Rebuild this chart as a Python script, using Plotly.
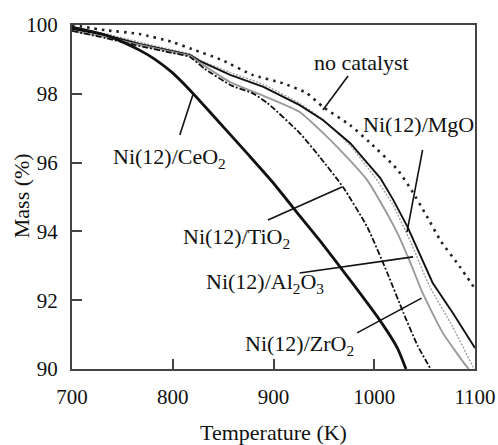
import plotly.graph_objects as go

# ---- data ----
temp_nocat = [700, 733, 767, 799, 819, 849, 879, 909, 933, 949, 976, 995, 1023, 1038, 1052, 1066, 1085, 1100]
mass_nocat = [100.0, 99.85, 99.74, 99.51, 99.30, 98.98, 98.55, 98.31, 98.02, 97.62, 97.09, 96.6, 95.8, 95.15, 94.45, 93.72, 92.97, 92.33]

temp_mgo = [700, 733, 767, 799, 817, 827, 857, 890, 926, 949, 976, 1006, 1019, 1033, 1043, 1058, 1078, 1100]
mass_mgo = [99.88, 99.71, 99.45, 99.24, 99.13, 98.95, 98.55, 98.20, 97.67, 97.24, 96.57, 95.55, 94.91, 94.13, 93.46, 92.50, 91.63, 90.61]

temp_al = [700, 733, 767, 799, 817, 827, 857, 890, 926, 949, 976, 1000, 1018, 1036, 1055, 1078, 1098, 1099]
mass_al = [99.9, 99.75, 99.5, 99.28, 99.16, 98.98, 98.62, 98.27, 97.72, 97.25, 96.5, 95.6, 94.8, 93.7, 92.4, 91.22, 90.06, 90.0]

temp_zr = [700, 733, 767, 799, 817, 827, 857, 890, 926, 946, 966, 993, 1009, 1023, 1036, 1048, 1068, 1092, 1094]
mass_zr = [99.83, 99.65, 99.42, 99.22, 99.10, 98.90, 98.34, 97.94, 97.47, 96.95, 96.37, 95.49, 94.71, 93.95, 93.08, 92.21, 91.05, 90.06, 90.0]

temp_ti = [700, 733, 767, 799, 817, 832, 859, 879, 894, 926, 946, 969, 993, 1013, 1029, 1043, 1056]
mass_ti = [99.83, 99.62, 99.39, 99.19, 99.07, 98.72, 98.23, 98.02, 97.73, 96.86, 96.16, 95.29, 94.13, 92.79, 91.63, 90.68, 90.0]

temp_ce = [700, 733, 750, 767, 782, 799, 816, 840, 875, 900, 926, 946, 966, 986, 1006, 1023, 1031.5]
mass_ce = [99.94, 99.71, 99.51, 99.27, 99.01, 98.63, 98.14, 97.37, 96.23, 95.40, 94.45, 93.73, 92.97, 92.20, 91.40, 90.61, 90.0]

x_ticks = [700, 800, 900, 1000, 1100]
y_ticks = [90, 92, 94, 96, 98, 100]

# labels: text, label position, leader start, leader end
labels = [
    ("no catalyst", 987, 98.92, 974, 98.52, 949, 97.53),
    ("Ni(12)/MgO", 1044, 97.12, 1048, 96.37, 1032.5, 93.98),
    ("Ni(12)/CeO<sub>2</sub>", 797, 96.14, 820, 97.97, 807, 96.80),
    ("Ni(12)/TiO<sub>2</sub>", 863, 93.80, 894.5, 94.33, 968, 95.29),
    ("Ni(12)/Al<sub>2</sub>O<sub>3</sub>", 892, 92.50, 926, 92.79, 1038.5, 93.26),
    ("Ni(12)/ZrO<sub>2</sub>", 926, 90.70, 983, 91.05, 1047, 92.06),
]

FONT = "Liberation Serif"

fig = go.Figure()
fig.add_trace(go.Scatter(x=temp_nocat, y=mass_nocat, mode="lines",
                         line=dict(color="#222222", width=2.6, dash="2.5px,5px", shape="spline", smoothing=0.5)))
fig.add_trace(go.Scatter(x=temp_al, y=mass_al, mode="lines",
                         line=dict(color="#a0a0a0", width=1.4, dash="2px,1.5px", shape="spline", smoothing=0.5)))
fig.add_trace(go.Scatter(x=temp_mgo, y=mass_mgo, mode="lines",
                         line=dict(color="#111111", width=1.9)))
fig.add_trace(go.Scatter(x=temp_zr, y=mass_zr, mode="lines",
                         line=dict(color="#9a9a9a", width=1.9, shape="spline", smoothing=0.5)))
fig.add_trace(go.Scatter(x=temp_ti, y=mass_ti, mode="lines",
                         line=dict(color="#111111", width=1.8, dash="6px,2px,2px,2px", shape="spline", smoothing=0.5)))
fig.add_trace(go.Scatter(x=temp_ce, y=mass_ce, mode="lines",
                         line=dict(color="#111111", width=2.8, shape="spline", smoothing=0.6)))

for text, tx, ty, x0, y0, x1, y1 in labels:
    fig.add_annotation(x=tx, y=ty, text=text, showarrow=False,
                       font=dict(family=FONT, size=22, color="#111111"),
                       xanchor="center", yanchor="middle")
    fig.add_shape(type="line", x0=x0, y0=y0, x1=x1, y1=y1, xref="x", yref="y",
                  line=dict(color="#111111", width=1.6))

fig.add_annotation(text="Mass (%)", xref="paper", yref="paper", x=-0.125, y=0.504,
                   textangle=-90, showarrow=False, xanchor="center", yanchor="middle",
                   font=dict(family=FONT, size=22, color="#111111"))

axis_common = dict(showline=True, mirror=True, linecolor="#444444", linewidth=2,
                   ticks="inside", ticklen=10, tickwidth=2, tickcolor="#444444",
                   showgrid=False, zeroline=False, automargin=False,
                   tickfont=dict(family=FONT, size=21, color="#111111"))

fig.update_xaxes(range=[700, 1100], tickvals=x_ticks, ticktext=[str(v) for v in x_ticks],
                 title=dict(text="Temperature (K)", font=dict(family=FONT, size=22, color="#111111"),
                            standoff=22),
                 ticklabelstandoff=8, **axis_common)
fig.update_yaxes(range=[90, 100], tickvals=y_ticks, ticktext=[str(v) for v in y_ticks],
                 ticklabelstandoff=8, **axis_common)

fig.update_layout(width=498, height=445, margin=dict(l=72, r=23, t=25, b=76),
                  paper_bgcolor="white", plot_bgcolor="white", showlegend=False)

fig.write_html("out.html")
